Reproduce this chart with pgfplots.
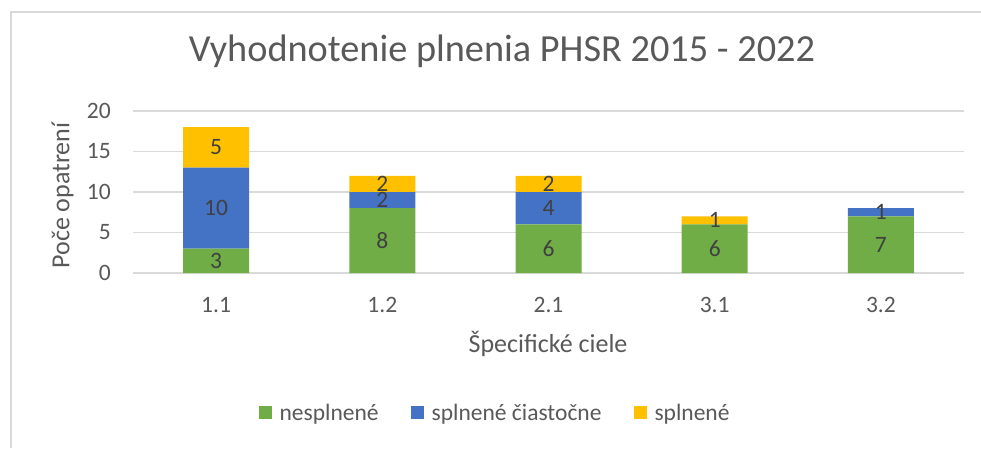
\documentclass[border=0pt]{standalone}
\usepackage{fontspec}
\setmainfont{Carlito}
\usepackage{pgfplots}
\usepackage{pgfplotstable}
\pgfplotsset{compat=1.18}
\definecolor{cgreen}{HTML}{70AD47}
\definecolor{cblue}{HTML}{4472C4}
\definecolor{cyellow}{HTML}{FFC000}
\definecolor{txtgray}{HTML}{595959}
\definecolor{lblgray}{HTML}{404040}
\definecolor{gridgray}{HTML}{D9D9D9}
\pgfplotstableread{
cat a b c
0 3 10 5
1 8 2 2
2 6 4 2
3 6 0 1
4 7 1 0
}\data
\pgfplotsset{sqlegend/.style={legend image code/.code={\fill[##1] (0pt,-6.5pt) rectangle (13pt,6.5pt);}}}
\begin{document}
\begin{tikzpicture}
\useasboundingbox[fill=white] (0pt,0pt) rectangle (981pt,448pt);
\draw[gridgray, line width=2pt] (10.5pt,0pt) -- (10.5pt,436pt) -- (981pt,436pt);
\begin{axis}[
  at={(133pt,175pt)}, anchor=south west,
  scale only axis, width=831pt, height=162pt,
  ybar stacked, bar width=66pt,
  xmin=-0.5, xmax=4.5, ymin=0, ymax=20,
  xtick={0,...,4}, xticklabels={1.1,1.2,2.1,3.1,3.2},
  ytick={0,5,10,15,20},
  ymajorgrids, grid style={gridgray, line width=1.3pt},
  axis line style={draw=none}, major tick length=0pt,
  tick label style={font=\fontsize{23.5}{24}\selectfont, text=txtgray},
  /pgf/number format/assume math mode=true,
  yticklabel style={anchor=east, inner sep=0pt, xshift=-22pt},
  xticklabel style={anchor=center, inner sep=0pt, yshift=-32pt},
  point meta=explicit,
  nodes near coords={\pgfmathfloatifflags{\pgfplotspointmeta}{0}{}{\pgfmathprintnumber{\pgfplotspointmeta}}},
  every node near coord/.append style={anchor=center, font=\fontsize{23.5}{24}\selectfont, text=lblgray},
  title={Vyhodnotenie plnenia PHSR 2015 - 2022},
  title style={at={(0.444,1.2716)}, anchor=base, font=\fontsize{38.3}{40}\selectfont, text=txtgray, inner sep=0pt},
  xlabel={Špecifické ciele},
  xlabel style={at={(0.4994,-0.4877)}, anchor=base, font=\fontsize{26}{28}\selectfont, text=txtgray, inner sep=0pt},
  ylabel={Poče opatrení},
  ylabel style={at={(-0.0847,0.478)}, anchor=center, font=\fontsize{26}{28}\selectfont, text=txtgray, inner sep=0pt},
  legend style={at={(0.4357,-0.864)}, anchor=center, draw=none, fill=none, legend columns=-1, font=\fontsize{23.5}{24}\selectfont, text=txtgray, /tikz/every odd column/.append style={column sep=6pt}, /tikz/every even column/.append style={column sep=30pt}},
]
\addplot[fill=cgreen, draw=none, sqlegend] table[x=cat,y=a,meta=a]{\data};
\addlegendentry{nesplnené}
\addplot[fill=cblue, draw=none, sqlegend] table[x=cat,y=b,meta=b]{\data};
\addlegendentry{splnené čiastočne}
\addplot[fill=cyellow, draw=none, sqlegend] table[x=cat,y=c,meta=c]{\data};
\addlegendentry{splnené}
\end{axis}
\end{tikzpicture}
\end{document}
